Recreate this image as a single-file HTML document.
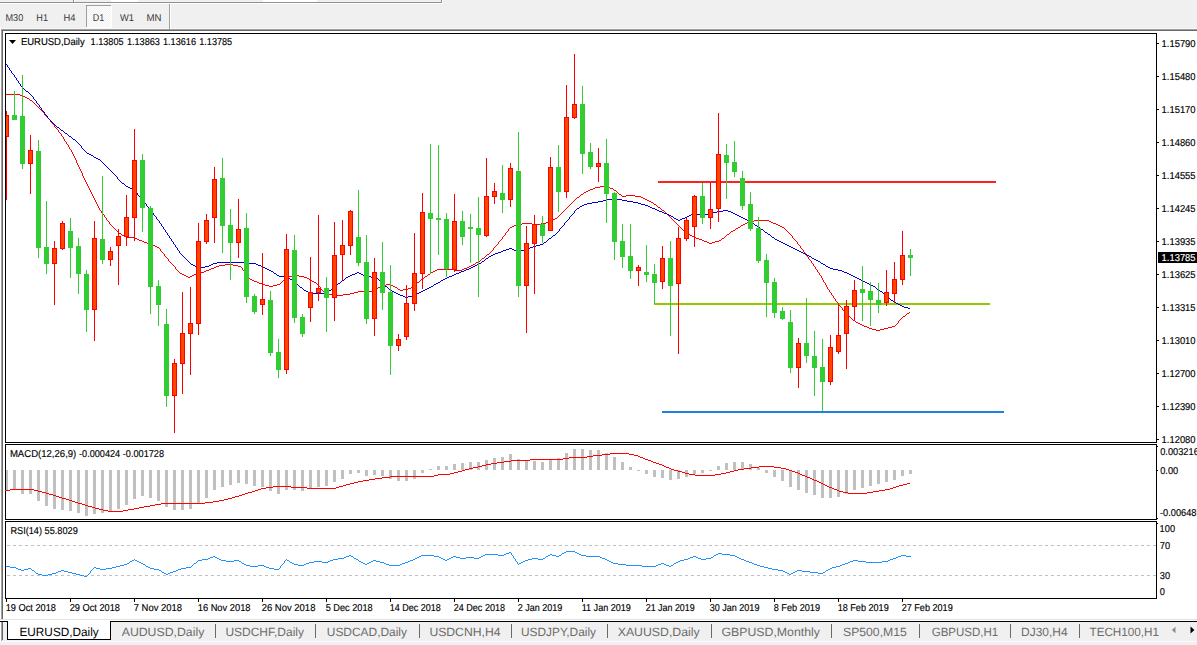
<!DOCTYPE html>
<html><head><meta charset="utf-8"><title>EURUSD,Daily</title>
<style>
html,body{margin:0;padding:0;background:#f0f0f0;overflow:hidden}
body{width:1197px;height:645px;position:relative;font-family:"Liberation Sans",sans-serif}
svg{position:absolute;left:0;top:0;display:block}
text{font-family:"Liberation Sans",sans-serif;text-rendering:geometricPrecision}
.ax{font-size:10px;fill:#000;stroke:#000;stroke-width:0.15px}
.dt{font-size:10px;fill:#000;stroke:#000;stroke-width:0.15px}
.tab{font-size:12px}
.tf{font-size:10px;fill:#383838}
.ttl{font-size:10px;fill:#000;stroke:#000;stroke-width:0.15px}
</style></head><body>
<svg width="1197" height="645" viewBox="0 0 1197 645">
<!-- window chrome -->
<rect x="0" y="0" width="1197" height="645" fill="#f0f0f0"/>
<rect x="111" y="0" width="27" height="2" fill="#fff"/>
<rect x="263" y="0" width="54" height="2" fill="#fff"/>
<rect x="0" y="2" width="442" height="1" fill="#909090"/>
<rect x="0" y="3" width="443" height="1" fill="#fff"/>
<rect x="73" y="0" width="1" height="2" fill="#909090"/>
<rect x="74" y="0" width="1" height="2" fill="#fff"/>
<rect x="441" y="0" width="1" height="3" fill="#909090"/>
<rect x="442" y="0" width="1" height="3" fill="#fff"/>
<rect x="0" y="28" width="1197" height="1" fill="#f8f8f8"/>
<rect x="0" y="29" width="1197" height="1" fill="#a0a0a0"/>
<rect x="0" y="30" width="1197" height="591" fill="#ffffff"/>
<rect x="1" y="30" width="1197" height="1" fill="#696969"/>
<rect x="1" y="29" width="1" height="591" fill="#a0a0a0"/>
<rect x="2" y="30" width="1" height="590" fill="#696969"/>
<rect x="0" y="29" width="1" height="592" fill="#fff"/>
<rect x="0" y="619" width="1197" height="1" fill="#e3e3e3"/>
<!-- timeframe toolbar -->
<rect x="86" y="5" width="26" height="23" fill="#fff"/>
<defs><pattern id="dith" x="87" y="6" width="2" height="2" patternUnits="userSpaceOnUse"><rect width="2" height="2" fill="#fff"/><rect x="0" y="0" width="1" height="1" fill="#f0f0f0"/><rect x="1" y="1" width="1" height="1" fill="#f0f0f0"/></pattern></defs>
<rect x="87" y="6" width="24" height="21" fill="url(#dith)" shape-rendering="crispEdges"/>
<rect x="86" y="5" width="25" height="1" fill="#a0a0a0"/>
<rect x="86" y="5" width="1" height="22" fill="#a0a0a0"/>
<rect x="169" y="4" width="1" height="25" fill="#a0a0a0"/>
<rect x="170" y="4" width="1" height="25" fill="#ffffff"/>
<text x="5.5" y="21" class="tf" textLength="17.8" lengthAdjust="spacingAndGlyphs">M30</text>
<text x="36.3" y="21" class="tf" textLength="11.7" lengthAdjust="spacingAndGlyphs">H1</text>
<text x="63.5" y="21" class="tf" textLength="12.0" lengthAdjust="spacingAndGlyphs">H4</text>
<text x="92.7" y="21" class="tf" textLength="11.5" lengthAdjust="spacingAndGlyphs">D1</text>
<text x="120" y="21" class="tf" textLength="14.0" lengthAdjust="spacingAndGlyphs">W1</text>
<text x="146.5" y="21" class="tf" textLength="15.0" lengthAdjust="spacingAndGlyphs">MN</text>
<!-- main chart frame -->
<g shape-rendering="crispEdges">
<rect x="5" y="33" width="1152" height="1" fill="#000"/>
<rect x="5" y="33" width="1" height="566" fill="#000"/>
<rect x="1156" y="33" width="1" height="410" fill="#000"/>
<rect x="5" y="442" width="1152" height="1" fill="#000"/>
<rect x="5" y="443" width="1152" height="1" fill="#fff"/>
<rect x="5" y="444" width="1152" height="1" fill="#000"/>
<rect x="1156" y="444" width="1" height="76" fill="#000"/>
<rect x="5" y="519" width="1152" height="1" fill="#000"/>
<rect x="5" y="520" width="1152" height="1" fill="#fff"/>
<rect x="5" y="521" width="1152" height="1" fill="#000"/>
<rect x="1156" y="521" width="1" height="78" fill="#000"/>
<rect x="5" y="598" width="1152" height="1" fill="#000"/>
<!-- RSI levels -->
<line x1="7" y1="545.5" x2="1156" y2="545.5" stroke="#c0c0c0" stroke-width="1" stroke-dasharray="3 3"/>
<line x1="7" y1="575.5" x2="1156" y2="575.5" stroke="#c0c0c0" stroke-width="1" stroke-dasharray="3 3"/>
<!-- MACD -->
<svg x="6" y="445" width="1150" height="74" viewBox="6 445 1150 74">
<rect x="5" y="470" width="3" height="20" fill="#c0c0c0"/>
<rect x="13" y="470" width="3" height="20" fill="#c0c0c0"/>
<rect x="21" y="470" width="3" height="24" fill="#c0c0c0"/>
<rect x="29" y="470" width="3" height="24" fill="#c0c0c0"/>
<rect x="37" y="470" width="3" height="31" fill="#c0c0c0"/>
<rect x="45" y="470" width="3" height="36" fill="#c0c0c0"/>
<rect x="53" y="470" width="3" height="39" fill="#c0c0c0"/>
<rect x="61" y="470" width="3" height="40" fill="#c0c0c0"/>
<rect x="69" y="470" width="3" height="41" fill="#c0c0c0"/>
<rect x="77" y="470" width="3" height="43" fill="#c0c0c0"/>
<rect x="85" y="470" width="3" height="46" fill="#c0c0c0"/>
<rect x="93" y="470" width="3" height="44" fill="#c0c0c0"/>
<rect x="101" y="470" width="3" height="43" fill="#c0c0c0"/>
<rect x="109" y="470" width="3" height="41" fill="#c0c0c0"/>
<rect x="117" y="470" width="3" height="39" fill="#c0c0c0"/>
<rect x="125" y="470" width="3" height="35" fill="#c0c0c0"/>
<rect x="133" y="470" width="3" height="29" fill="#c0c0c0"/>
<rect x="141" y="470" width="3" height="26" fill="#c0c0c0"/>
<rect x="149" y="470" width="3" height="28" fill="#c0c0c0"/>
<rect x="157" y="470" width="3" height="31" fill="#c0c0c0"/>
<rect x="165" y="470" width="3" height="37" fill="#c0c0c0"/>
<rect x="173" y="470" width="3" height="40" fill="#c0c0c0"/>
<rect x="181" y="470" width="3" height="40" fill="#c0c0c0"/>
<rect x="189" y="470" width="3" height="39" fill="#c0c0c0"/>
<rect x="197" y="470" width="3" height="33" fill="#c0c0c0"/>
<rect x="205" y="470" width="3" height="28" fill="#c0c0c0"/>
<rect x="213" y="470" width="3" height="20" fill="#c0c0c0"/>
<rect x="221" y="470" width="3" height="17" fill="#c0c0c0"/>
<rect x="229" y="470" width="3" height="15" fill="#c0c0c0"/>
<rect x="237" y="470" width="3" height="13" fill="#c0c0c0"/>
<rect x="245" y="470" width="3" height="14" fill="#c0c0c0"/>
<rect x="253" y="470" width="3" height="16" fill="#c0c0c0"/>
<rect x="261" y="470" width="3" height="17" fill="#c0c0c0"/>
<rect x="269" y="470" width="3" height="21" fill="#c0c0c0"/>
<rect x="277" y="470" width="3" height="24" fill="#c0c0c0"/>
<rect x="285" y="470" width="3" height="20" fill="#c0c0c0"/>
<rect x="293" y="470" width="3" height="20" fill="#c0c0c0"/>
<rect x="301" y="470" width="3" height="21" fill="#c0c0c0"/>
<rect x="309" y="470" width="3" height="19" fill="#c0c0c0"/>
<rect x="317" y="470" width="3" height="17" fill="#c0c0c0"/>
<rect x="325" y="470" width="3" height="16" fill="#c0c0c0"/>
<rect x="333" y="470" width="3" height="12" fill="#c0c0c0"/>
<rect x="341" y="470" width="3" height="9" fill="#c0c0c0"/>
<rect x="349" y="470" width="3" height="4" fill="#c0c0c0"/>
<rect x="357" y="470" width="3" height="3" fill="#c0c0c0"/>
<rect x="365" y="470" width="3" height="6" fill="#c0c0c0"/>
<rect x="373" y="470" width="3" height="5" fill="#c0c0c0"/>
<rect x="381" y="470" width="3" height="6" fill="#c0c0c0"/>
<rect x="389" y="470" width="3" height="9" fill="#c0c0c0"/>
<rect x="397" y="470" width="3" height="11" fill="#c0c0c0"/>
<rect x="405" y="470" width="3" height="11" fill="#c0c0c0"/>
<rect x="413" y="470" width="3" height="9" fill="#c0c0c0"/>
<rect x="421" y="470" width="3" height="3" fill="#c0c0c0"/>
<rect x="429" y="469" width="3" height="1" fill="#c0c0c0"/>
<rect x="437" y="466" width="3" height="4" fill="#c0c0c0"/>
<rect x="445" y="466" width="3" height="4" fill="#c0c0c0"/>
<rect x="453" y="464" width="3" height="6" fill="#c0c0c0"/>
<rect x="461" y="463" width="3" height="7" fill="#c0c0c0"/>
<rect x="469" y="462" width="3" height="8" fill="#c0c0c0"/>
<rect x="477" y="462" width="3" height="8" fill="#c0c0c0"/>
<rect x="485" y="460" width="3" height="10" fill="#c0c0c0"/>
<rect x="493" y="458" width="3" height="12" fill="#c0c0c0"/>
<rect x="501" y="457" width="3" height="13" fill="#c0c0c0"/>
<rect x="509" y="454" width="3" height="16" fill="#c0c0c0"/>
<rect x="517" y="459" width="3" height="11" fill="#c0c0c0"/>
<rect x="525" y="460" width="3" height="10" fill="#c0c0c0"/>
<rect x="533" y="461" width="3" height="9" fill="#c0c0c0"/>
<rect x="541" y="462" width="3" height="8" fill="#c0c0c0"/>
<rect x="549" y="460" width="3" height="10" fill="#c0c0c0"/>
<rect x="557" y="458" width="3" height="12" fill="#c0c0c0"/>
<rect x="565" y="453" width="3" height="17" fill="#c0c0c0"/>
<rect x="573" y="449" width="3" height="21" fill="#c0c0c0"/>
<rect x="581" y="449" width="3" height="21" fill="#c0c0c0"/>
<rect x="589" y="450" width="3" height="20" fill="#c0c0c0"/>
<rect x="597" y="450" width="3" height="20" fill="#c0c0c0"/>
<rect x="605" y="453" width="3" height="17" fill="#c0c0c0"/>
<rect x="613" y="457" width="3" height="13" fill="#c0c0c0"/>
<rect x="621" y="462" width="3" height="8" fill="#c0c0c0"/>
<rect x="629" y="467" width="3" height="3" fill="#c0c0c0"/>
<rect x="637" y="470" width="3" height="1" fill="#c0c0c0"/>
<rect x="645" y="470" width="3" height="4" fill="#c0c0c0"/>
<rect x="653" y="470" width="3" height="7" fill="#c0c0c0"/>
<rect x="661" y="470" width="3" height="8" fill="#c0c0c0"/>
<rect x="669" y="470" width="3" height="10" fill="#c0c0c0"/>
<rect x="677" y="470" width="3" height="9" fill="#c0c0c0"/>
<rect x="685" y="470" width="3" height="7" fill="#c0c0c0"/>
<rect x="693" y="470" width="3" height="4" fill="#c0c0c0"/>
<rect x="701" y="470" width="3" height="3" fill="#c0c0c0"/>
<rect x="709" y="470" width="3" height="1" fill="#c0c0c0"/>
<rect x="717" y="466" width="3" height="4" fill="#c0c0c0"/>
<rect x="725" y="463" width="3" height="7" fill="#c0c0c0"/>
<rect x="733" y="462" width="3" height="8" fill="#c0c0c0"/>
<rect x="741" y="462" width="3" height="8" fill="#c0c0c0"/>
<rect x="749" y="464" width="3" height="6" fill="#c0c0c0"/>
<rect x="757" y="468" width="3" height="2" fill="#c0c0c0"/>
<rect x="765" y="470" width="3" height="3" fill="#c0c0c0"/>
<rect x="773" y="470" width="3" height="7" fill="#c0c0c0"/>
<rect x="781" y="470" width="3" height="11" fill="#c0c0c0"/>
<rect x="789" y="470" width="3" height="17" fill="#c0c0c0"/>
<rect x="797" y="470" width="3" height="20" fill="#c0c0c0"/>
<rect x="805" y="470" width="3" height="23" fill="#c0c0c0"/>
<rect x="813" y="470" width="3" height="25" fill="#c0c0c0"/>
<rect x="821" y="470" width="3" height="28" fill="#c0c0c0"/>
<rect x="829" y="470" width="3" height="28" fill="#c0c0c0"/>
<rect x="837" y="470" width="3" height="27" fill="#c0c0c0"/>
<rect x="845" y="470" width="3" height="24" fill="#c0c0c0"/>
<rect x="853" y="470" width="3" height="20" fill="#c0c0c0"/>
<rect x="861" y="470" width="3" height="18" fill="#c0c0c0"/>
<rect x="869" y="470" width="3" height="16" fill="#c0c0c0"/>
<rect x="877" y="470" width="3" height="14" fill="#c0c0c0"/>
<rect x="885" y="470" width="3" height="12" fill="#c0c0c0"/>
<rect x="893" y="470" width="3" height="10" fill="#c0c0c0"/>
<rect x="901" y="470" width="3" height="6" fill="#c0c0c0"/>
<rect x="909" y="470" width="3" height="4" fill="#c0c0c0"/>
</svg>
<!-- horizontal lines -->
<rect x="658" y="181" width="338" height="2" fill="#ff2020"/>
<rect x="654" y="303" width="336" height="2" fill="#96c800"/>
<rect x="662" y="411" width="342" height="2" fill="#2080e0"/>
<path d="M373 290h2v1h-2zM400 290h3v1h-3zM872 329h4v1h-4zM880 329h4v1h-4zM685 232h2v1h-2zM595 187h5v1h-5zM606 187h4v1h-4zM214 267h2v1h-2zM467 267h2v1h-2zM257 282h2v1h-2zM314 282h2v1h-2zM417 282h2v1h-2zM206 270h3v1h-3zM435 270h2v1h-2zM455 270h7v1h-7zM622 196h4v1h-4zM635 196h6v1h-6zM329 294h5v1h-5zM343 294h7v1h-7zM860 324h2v1h-2zM137 239h2v1h-2zM699 239h3v1h-3zM6 94h14v1h-14zM853 320h2v1h-2zM135 238h2v1h-2zM696 238h3v1h-3zM722 238h2v1h-2zM482 258h2v1h-2zM334 295h9v1h-9zM157 247h2v1h-2zM600 186h6v1h-6zM590 189h3v1h-3zM259 283h3v1h-3zM731 231h2v1h-2zM219 265h6v1h-6zM233 265h5v1h-5zM471 265h2v1h-2zM20 95h2v1h-2zM869 328h3v1h-3zM884 328h4v1h-4zM551 220h2v1h-2zM754 220h15v1h-15zM265 285h4v1h-4zM273 285h4v1h-4zM382 285h4v1h-4zM390 285h3v1h-3zM517 224h5v1h-5zM532 224h9v1h-9zM743 224h2v1h-2zM776 224h2v1h-2zM126 237h9v1h-9zM694 237h2v1h-2zM209 269h2v1h-2zM437 269h18v1h-18zM462 269h2v1h-2zM326 293h3v1h-3zM350 293h4v1h-4zM555 218h2v1h-2zM269 286h4v1h-4zM380 286h2v1h-2zM393 286h2v1h-2zM412 286h2v1h-2zM903 316h2v1h-2zM184 275h2v1h-2zM192 275h2v1h-2zM292 275h7v1h-7zM124 236h2v1h-2zM692 236h2v1h-2zM378 287h2v1h-2zM395 287h2v1h-2zM252 280h2v1h-2zM283 280h2v1h-2zM204 271h2v1h-2zM433 271h2v1h-2zM626 195h9v1h-9zM150 244h2v1h-2zM225 264h8v1h-8zM473 264h2v1h-2zM867 327h2v1h-2zM888 327h4v1h-4zM201 272h3v1h-3zM431 272h2v1h-2zM522 223h10v1h-10zM541 223h5v1h-5zM745 223h2v1h-2zM773 223h3v1h-3zM645 199h2v1h-2zM188 277h2v1h-2zM304 277h3v1h-3zM152 245h3v1h-3zM22 96h3v1h-3zM216 266h3v1h-3zM238 266h3v1h-3zM469 266h2v1h-2zM688 234h2v1h-2zM727 234h2v1h-2zM586 191h2v1h-2zM584 192h2v1h-2zM658 207h2v1h-2zM182 274h2v1h-2zM194 274h3v1h-3zM428 274h2v1h-2zM144 242h3v1h-3zM707 242h2v1h-2zM712 242h3v1h-3zM514 225h3v1h-3zM741 225h2v1h-2zM778 225h2v1h-2zM546 222h3v1h-3zM747 222h2v1h-2zM771 222h2v1h-2zM376 288h2v1h-2zM408 288h3v1h-3zM139 240h3v1h-3zM702 240h2v1h-2zM719 240h2v1h-2zM358 291h15v1h-15zM593 188h2v1h-2zM610 188h3v1h-3zM476 262h2v1h-2zM876 330h4v1h-4zM654 204h2v1h-2zM147 243h3v1h-3zM709 243h3v1h-3zM549 221h2v1h-2zM749 221h5v1h-5zM769 221h2v1h-2zM478 261h2v1h-2zM122 235h2v1h-2zM690 235h2v1h-2zM856 322h2v1h-2zM581 194h2v1h-2zM619 194h2v1h-2zM211 268h3v1h-3zM464 268h3v1h-3zM398 289h2v1h-2zM403 289h5v1h-5zM155 246h2v1h-2zM324 292h2v1h-2zM354 292h4v1h-4zM119 233h2v1h-2zM142 241h2v1h-2zM704 241h3v1h-3zM715 241h4v1h-4zM736 228h2v1h-2zM647 200h2v1h-2zM553 219h2v1h-2zM186 276h2v1h-2zM190 276h2v1h-2zM288 276h4v1h-4zM299 276h5v1h-5zM425 276h2v1h-2zM649 201h2v1h-2zM577 197h2v1h-2zM641 197h2v1h-2zM643 198h2v1h-2zM262 284h3v1h-3zM277 284h3v1h-3zM386 284h4v1h-4zM307 278h2v1h-2zM180 273h2v1h-2zM197 273h4v1h-4zM588 190h2v1h-2zM614 190h2v1h-2zM512 226h2v1h-2zM780 226h2v1h-2zM733 230h2v1h-2zM254 281h3v1h-3zM312 281h2v1h-2zM862 325h2v1h-2zM858 323h2v1h-2zM864 326h3v1h-3zM892 326h3v1h-3zM250 279h2v1h-2zM309 279h2v1h-2zM421 279h2v1h-2zM510 227h2v1h-2zM738 227h2v1h-2zM782 227h2v1h-2zM25 97h2v1h-2zM487 254h2v1h-2zM27 98h2v1h-2zM907 313h2v1h-2zM651 202h2v1h-2zM30 100h2v1h-2zM662 210h2v1h-2zM32 101h1v1h-1zM730 232h1v1h-1zM104 215h1v2h-1zM805 253h1v2h-1zM93 196h1v2h-1zM670 217h1v1h-1zM568 206h1v1h-1zM167 258h1v1h-1zM491 251h1v1h-1zM835 299h1v2h-1zM494 247h1v1h-1zM809 259h1v1h-1zM89 188h1v2h-1zM838 303h1v2h-1zM71 150h1v2h-1zM787 231h1v1h-1zM160 249h1v2h-1zM39 108h1v1h-1zM839 305h1v1h-1zM280 283h1v1h-1zM46 116h1v1h-1zM502 237h1v2h-1zM78 165h1v2h-1zM107 220h1v1h-1zM178 271h1v1h-1zM79 167h1v2h-1zM92 194h1v2h-1zM852 319h1v1h-1zM575 199h1v1h-1zM424 277h1v1h-1zM56 128h1v1h-1zM617 192h1v1h-1zM813 264h1v2h-1zM38 107h1v1h-1zM57 129h1v1h-1zM86 182h1v2h-1zM485 256h1v1h-1zM505 233h1v2h-1zM242 268h1v2h-1zM170 262h1v1h-1zM677 224h1v1h-1zM563 211h1v1h-1zM81 171h1v2h-1zM106 218h1v2h-1zM898 321h1v2h-1zM798 244h1v1h-1zM159 248h1v1h-1zM684 231h1v1h-1zM613 189h1v1h-1zM579 196h1v1h-1zM808 257h1v2h-1zM837 302h1v1h-1zM676 223h1v1h-1zM812 263h1v1h-1zM489 253h1v1h-1zM85 180h1v2h-1zM721 239h1v1h-1zM241 267h1v1h-1zM570 204h1v1h-1zM797 242h1v2h-1zM725 236h1v1h-1zM665 212h1v1h-1zM121 234h1v1h-1zM901 318h1v1h-1zM729 233h1v1h-1zM110 224h1v1h-1zM905 315h1v1h-1zM558 216h1v1h-1zM909 312h1v1h-1zM88 186h1v2h-1zM815 267h1v2h-1zM816 269h1v1h-1zM317 284h1v1h-1zM286 278h1v1h-1zM508 229h1v2h-1zM245 272h1v2h-1zM841 307h1v1h-1zM790 234h1v1h-1zM430 273h1v1h-1zM415 284h1v1h-1zM847 314h1v1h-1zM796 241h1v1h-1zM493 248h1v2h-1zM48 118h1v1h-1zM109 222h1v2h-1zM77 163h1v2h-1zM419 281h1v1h-1zM848 315h1v1h-1zM800 246h1v2h-1zM161 251h1v1h-1zM33 102h1v1h-1zM423 278h1v1h-1zM91 192h1v2h-1zM162 252h1v1h-1zM480 260h1v1h-1zM565 209h1v1h-1zM811 261h1v2h-1zM87 184h1v2h-1zM672 219h1v1h-1zM116 230h1v1h-1zM501 239h1v1h-1zM59 132h1v1h-1zM504 235h1v1h-1zM661 209h1v1h-1zM40 109h1v1h-1zM117 231h1v1h-1zM840 306h1v1h-1zM664 211h1v1h-1zM789 233h1v1h-1zM41 110h1v1h-1zM244 271h1v1h-1zM172 264h1v1h-1zM496 245h1v1h-1zM499 241h1v1h-1zM679 226h1v1h-1zM248 276h1v2h-1zM108 221h1v1h-1zM179 272h1v1h-1zM76 160h1v3h-1zM671 218h1v1h-1zM58 130h1v2h-1zM427 275h1v1h-1zM810 260h1v1h-1zM90 190h1v2h-1zM484 257h1v1h-1zM507 231h1v1h-1zM829 290h1v2h-1zM73 154h1v2h-1zM618 193h1v1h-1zM814 266h1v1h-1zM660 208h1v1h-1zM822 278h1v2h-1zM165 256h1v1h-1zM678 225h1v1h-1zM84 178h1v2h-1zM320 287h1v2h-1zM29 99h1v1h-1zM900 319h1v1h-1zM98 206h1v2h-1zM799 245h1v1h-1zM101 211h1v2h-1zM51 122h1v1h-1zM803 250h1v2h-1zM895 325h1v1h-1zM164 254h1v2h-1zM281 282h1v1h-1zM817 270h1v2h-1zM825 283h1v2h-1zM735 229h1v1h-1zM828 289h1v1h-1zM61 134h1v2h-1zM69 147h1v2h-1zM818 272h1v1h-1zM171 263h1v1h-1zM569 205h1v1h-1zM821 276h1v2h-1zM62 136h1v1h-1zM83 176h1v2h-1zM319 286h1v1h-1zM843 310h1v1h-1zM792 236h1v2h-1zM50 120h1v2h-1zM97 204h1v2h-1zM557 217h1v1h-1zM656 205h1v1h-1zM111 225h1v1h-1zM583 193h1v1h-1zM850 317h1v1h-1zM572 202h1v1h-1zM75 158h1v2h-1zM285 279h1v1h-1zM35 104h1v1h-1zM498 242h1v2h-1zM112 226h1v1h-1zM64 139h1v2h-1zM72 152h1v2h-1zM784 228h1v1h-1zM842 308h1v2h-1zM824 282h1v1h-1zM832 295h1v1h-1zM65 141h1v1h-1zM68 145h1v2h-1zM118 232h1v1h-1zM674 221h1v1h-1zM495 246h1v1h-1zM82 173h1v3h-1zM560 214h1v1h-1zM246 274h1v1h-1zM791 235h1v1h-1zM486 255h1v1h-1zM666 213h1v1h-1zM849 316h1v1h-1zM247 275h1v1h-1zM175 267h1v2h-1zM490 252h1v1h-1zM49 119h1v1h-1zM375 289h1v1h-1zM827 287h1v2h-1zM506 232h1v1h-1zM673 220h1v1h-1zM60 133h1v1h-1zM802 249h1v1h-1zM163 253h1v1h-1zM831 293h1v2h-1zM318 285h1v1h-1zM820 275h1v1h-1zM567 207h1v1h-1zM99 208h1v2h-1zM42 111h1v1h-1zM100 210h1v1h-1zM801 248h1v1h-1zM34 103h1v1h-1zM74 156h1v2h-1zM823 280h1v2h-1zM826 285h1v2h-1zM819 273h1v2h-1zM63 137h1v2h-1zM902 317h1v1h-1zM173 265h1v1h-1zM574 200h1v1h-1zM897 323h1v1h-1zM680 227h1v1h-1zM174 266h1v1h-1zM249 278h1v1h-1zM845 312h1v1h-1zM681 228h1v1h-1zM96 202h1v2h-1zM571 203h1v1h-1zM52 123h1v1h-1zM509 228h1v1h-1zM726 235h1v1h-1zM830 292h1v1h-1zM562 212h1v1h-1zM53 124h1v1h-1zM66 142h1v2h-1zM833 296h1v2h-1zM416 283h1v1h-1zM397 288h1v1h-1zM166 257h1v1h-1zM855 321h1v1h-1zM834 298h1v1h-1zM67 144h1v1h-1zM114 228h1v1h-1zM321 289h1v1h-1zM724 237h1v1h-1zM906 314h1v1h-1zM786 230h1v1h-1zM70 149h1v1h-1zM481 259h1v1h-1zM559 215h1v1h-1zM44 113h1v2h-1zM793 238h1v1h-1zM287 277h1v1h-1zM102 213h1v1h-1zM45 115h1v1h-1zM657 206h1v1h-1zM794 239h1v1h-1zM95 200h1v2h-1zM103 214h1v1h-1zM804 252h1v1h-1zM177 270h1v1h-1zM669 216h1v1h-1zM497 244h1v1h-1zM420 280h1v1h-1zM113 227h1v1h-1zM687 233h1v1h-1zM616 191h1v1h-1zM37 106h1v1h-1zM740 226h1v1h-1zM492 250h1v1h-1zM844 311h1v1h-1zM566 208h1v1h-1zM653 203h1v1h-1zM667 214h1v1h-1zM80 169h1v2h-1zM668 215h1v1h-1zM94 198h1v2h-1zM851 318h1v1h-1zM500 240h1v1h-1zM36 105h1v1h-1zM55 127h1v1h-1zM785 229h1v1h-1zM807 256h1v1h-1zM168 259h1v2h-1zM836 301h1v1h-1zM675 222h1v1h-1zM169 261h1v1h-1zM414 285h1v1h-1zM43 112h1v1h-1zM573 201h1v1h-1zM176 269h1v1h-1zM682 229h1v1h-1zM503 236h1v1h-1zM475 263h1v1h-1zM683 230h1v1h-1zM54 125h1v2h-1zM561 213h1v1h-1zM576 198h1v1h-1zM580 195h1v1h-1zM896 324h1v1h-1zM899 320h1v1h-1zM282 281h1v1h-1zM323 291h1v1h-1zM564 210h1v1h-1zM411 287h1v1h-1zM795 240h1v1h-1zM105 217h1v1h-1zM47 117h1v1h-1zM806 255h1v1h-1zM316 283h1v1h-1zM115 229h1v1h-1zM322 290h1v1h-1zM311 280h1v1h-1zM621 195h1v1h-1zM788 232h1v1h-1zM846 313h1v1h-1zM243 270h1v1h-1z" fill="#ff0000" shape-rendering="crispEdges"/>
<path d="M398 294h2v1h-2zM415 294h2v1h-2zM284 277h5v1h-5zM346 277h2v1h-2zM371 277h6v1h-6zM447 277h2v1h-2zM855 277h2v1h-2zM265 268h2v1h-2zM469 268h2v1h-2zM830 268h3v1h-3zM304 290h2v1h-2zM329 290h2v1h-2zM423 290h2v1h-2zM217 262h30v1h-30zM530 247h3v1h-3zM791 247h2v1h-2zM94 157h2v1h-2zM761 229h2v1h-2zM87 153h2v1h-2zM357 272h2v1h-2zM459 272h2v1h-2zM844 272h3v1h-3zM667 214h2v1h-2zM691 214h17v1h-17zM735 214h2v1h-2zM308 292h3v1h-3zM394 292h2v1h-2zM419 292h2v1h-2zM193 265h2v1h-2zM209 265h2v1h-2zM258 265h3v1h-3zM475 265h2v1h-2zM311 293h16v1h-16zM396 293h2v1h-2zM417 293h2v1h-2zM334 286h2v1h-2zM385 286h2v1h-2zM431 286h2v1h-2zM873 286h2v1h-2zM493 254h2v1h-2zM805 254h2v1h-2zM342 280h2v1h-2zM441 280h2v1h-2zM861 280h2v1h-2zM501 251h2v1h-2zM516 251h4v1h-4zM799 251h2v1h-2zM553 235h2v1h-2zM587 203h5v1h-5zM638 203h3v1h-3zM389 289h2v1h-2zM425 289h2v1h-2zM877 289h2v1h-2zM607 199h5v1h-5zM617 199h5v1h-5zM503 250h3v1h-3zM514 250h2v1h-2zM520 250h4v1h-4zM797 250h2v1h-2zM89 154h2v1h-2zM491 255h2v1h-2zM807 255h2v1h-2zM195 266h4v1h-4zM205 266h4v1h-4zM261 266h2v1h-2zM473 266h2v1h-2zM826 266h2v1h-2zM91 155h2v1h-2zM489 256h2v1h-2zM809 256h2v1h-2zM509 248h3v1h-3zM528 248h2v1h-2zM793 248h2v1h-2zM338 283h2v1h-2zM436 283h2v1h-2zM867 283h2v1h-2zM664 213h3v1h-3zM708 213h4v1h-4zM733 213h2v1h-2zM213 263h4v1h-4zM247 263h9v1h-9zM479 263h2v1h-2zM821 263h2v1h-2zM577 208h2v1h-2zM652 208h3v1h-3zM427 288h2v1h-2zM199 267h6v1h-6zM263 267h2v1h-2zM471 267h2v1h-2zM828 267h2v1h-2zM598 201h5v1h-5zM627 201h6v1h-6zM655 209h2v1h-2zM495 253h3v1h-3zM803 253h2v1h-2zM352 274h3v1h-3zM361 274h2v1h-2zM454 274h2v1h-2zM849 274h2v1h-2zM755 225h2v1h-2zM603 200h4v1h-4zM622 200h5v1h-5zM772 237h2v1h-2zM400 295h3v1h-3zM412 295h3v1h-3zM783 243h2v1h-2zM676 219h2v1h-2zM680 219h2v1h-2zM745 219h2v1h-2zM657 210h2v1h-2zM723 210h5v1h-5zM584 204h3v1h-3zM641 204h4v1h-4zM674 218h2v1h-2zM682 218h3v1h-3zM743 218h2v1h-2zM777 240h2v1h-2zM536 245h4v1h-4zM787 245h2v1h-2zM871 285h2v1h-2zM902 306h2v1h-2zM685 217h2v1h-2zM741 217h2v1h-2zM300 287h2v1h-2zM429 287h2v1h-2zM669 215h2v1h-2zM689 215h2v1h-2zM737 215h2v1h-2zM191 264h2v1h-2zM211 264h2v1h-2zM256 264h2v1h-2zM477 264h2v1h-2zM823 264h2v1h-2zM294 282h2v1h-2zM438 282h2v1h-2zM865 282h2v1h-2zM267 269h2v1h-2zM466 269h3v1h-3zM833 269h5v1h-5zM659 211h3v1h-3zM717 211h6v1h-6zM728 211h3v1h-3zM749 221h2v1h-2zM898 304h2v1h-2zM768 234h2v1h-2zM274 273h2v1h-2zM355 273h2v1h-2zM359 273h2v1h-2zM456 273h3v1h-3zM847 273h2v1h-2zM403 296h2v1h-2zM408 296h4v1h-4zM886 296h2v1h-2zM279 276h5v1h-5zM348 276h2v1h-2zM365 276h6v1h-6zM449 276h3v1h-3zM853 276h2v1h-2zM612 198h5v1h-5zM758 227h2v1h-2zM662 212h2v1h-2zM712 212h5v1h-5zM731 212h2v1h-2zM306 291h2v1h-2zM392 291h2v1h-2zM421 291h2v1h-2zM880 291h2v1h-2zM891 300h2v1h-2zM582 205h2v1h-2zM645 205h3v1h-3zM277 275h2v1h-2zM350 275h2v1h-2zM363 275h2v1h-2zM452 275h2v1h-2zM851 275h2v1h-2zM671 216h2v1h-2zM687 216h2v1h-2zM739 216h2v1h-2zM908 308h2v1h-2zM678 220h2v1h-2zM747 220h2v1h-2zM290 279h2v1h-2zM443 279h2v1h-2zM859 279h2v1h-2zM271 271h2v1h-2zM461 271h3v1h-3zM842 271h2v1h-2zM592 202h6v1h-6zM633 202h5v1h-5zM486 258h2v1h-2zM812 258h2v1h-2zM765 232h2v1h-2zM751 222h2v1h-2zM126 186h2v1h-2zM506 249h3v1h-3zM512 249h2v1h-2zM524 249h4v1h-4zM795 249h2v1h-2zM814 259h2v1h-2zM904 307h4v1h-4zM269 270h2v1h-2zM464 270h2v1h-2zM838 270h4v1h-4zM549 238h2v1h-2zM26 91h2v1h-2zM816 260h2v1h-2zM893 301h2v1h-2zM498 252h3v1h-3zM801 252h2v1h-2zM130 188h2v1h-2zM482 261h2v1h-2zM818 261h2v1h-2zM132 189h2v1h-2zM434 284h2v1h-2zM869 284h2v1h-2zM73 139h2v1h-2zM540 244h3v1h-3zM785 244h2v1h-2zM98 159h2v1h-2zM128 187h2v1h-2zM122 183h2v1h-2zM445 278h2v1h-2zM857 278h2v1h-2zM96 158h2v1h-2zM405 297h3v1h-3zM779 241h2v1h-2zM544 242h2v1h-2zM781 242h2v1h-2zM580 206h2v1h-2zM648 206h2v1h-2zM775 239h2v1h-2zM65 133h2v1h-2zM900 305h2v1h-2zM650 207h2v1h-2zM896 303h2v1h-2zM61 130h2v1h-2zM533 246h3v1h-3zM789 246h2v1h-2zM57 127h2v1h-2zM863 281h2v1h-2zM69 136h2v1h-2zM302 288h1v1h-1zM391 290h1v1h-1zM163 227h1v2h-1zM185 258h1v1h-1zM18 81h1v2h-1zM875 287h1v1h-1zM124 184h1v1h-1zM59 128h1v1h-1zM142 199h1v2h-1zM101 161h1v1h-1zM164 229h1v1h-1zM52 122h1v1h-1zM20 84h1v2h-1zM181 254h1v1h-1zM10 70h1v1h-1zM39 105h1v2h-1zM882 292h1v1h-1zM48 118h1v1h-1zM83 149h1v1h-1zM102 162h1v1h-1zM328 291h1v1h-1zM137 193h1v2h-1zM7 65h1v2h-1zM548 239h1v1h-1zM292 280h1v1h-1zM146 204h1v2h-1zM168 235h1v1h-1zM303 289h1v1h-1zM574 211h1v2h-1zM67 134h1v1h-1zM84 150h1v1h-1zM876 288h1v1h-1zM125 185h1v1h-1zM327 292h1v1h-1zM78 143h1v1h-1zM332 288h1v1h-1zM118 179h1v1h-1zM333 287h1v1h-1zM173 242h1v2h-1zM31 95h1v1h-1zM182 255h1v1h-1zM276 274h1v1h-1zM552 236h1v1h-1zM11 71h1v2h-1zM573 213h1v1h-1zM40 107h1v1h-1zM148 207h1v1h-1zM49 119h1v1h-1zM157 219h1v1h-1zM13 74h1v1h-1zM331 289h1v1h-1zM484 260h1v1h-1zM174 244h1v1h-1zM32 96h1v1h-1zM16 78h1v2h-1zM183 256h1v1h-1zM569 217h1v2h-1zM763 230h1v1h-1zM177 248h1v2h-1zM55 125h1v1h-1zM41 108h1v2h-1zM884 294h1v1h-1zM50 120h1v1h-1zM134 190h1v1h-1zM44 112h1v2h-1zM171 239h1v2h-1zM51 121h1v1h-1zM770 235h1v1h-1zM488 257h1v1h-1zM17 80h1v1h-1zM86 152h1v1h-1zM80 145h1v1h-1zM100 160h1v1h-1zM75 140h1v1h-1zM149 208h1v1h-1zM158 220h1v1h-1zM120 181h1v1h-1zM189 262h1v1h-1zM175 245h1v2h-1zM33 97h1v2h-1zM764 231h1v1h-1zM184 257h1v1h-1zM81 146h1v2h-1zM56 126h1v1h-1zM150 209h1v2h-1zM885 295h1v1h-1zM159 221h1v2h-1zM144 202h1v1h-1zM29 93h1v1h-1zM180 253h1v1h-1zM153 213h1v2h-1zM22 87h1v1h-1zM190 263h1v1h-1zM9 68h1v2h-1zM77 142h1v1h-1zM106 166h1v1h-1zM563 225h1v1h-1zM565 222h1v1h-1zM186 259h1v1h-1zM289 278h1v1h-1zM53 123h1v1h-1zM47 116h1v2h-1zM64 132h1v1h-1zM107 167h1v1h-1zM559 229h1v2h-1zM561 227h1v1h-1zM543 243h1v1h-1zM136 192h1v1h-1zM14 75h1v2h-1zM273 272h1v1h-1zM753 223h1v1h-1zM23 88h1v1h-1zM103 163h1v1h-1zM337 284h1v1h-1zM169 236h1v2h-1zM557 232h1v1h-1zM558 231h1v1h-1zM546 241h1v1h-1zM187 260h1v1h-1zM547 240h1v1h-1zM172 241h1v1h-1zM15 77h1v1h-1zM79 144h1v1h-1zM119 180h1v1h-1zM54 124h1v1h-1zM24 89h1v1h-1zM575 210h1v1h-1zM336 285h1v1h-1zM72 138h1v1h-1zM341 281h1v1h-1zM108 168h1v1h-1zM156 217h1v2h-1zM673 217h1v1h-1zM387 287h1v1h-1zM188 261h1v1h-1zM143 201h1v1h-1zM551 237h1v1h-1zM104 164h1v1h-1zM571 215h1v1h-1zM114 174h1v1h-1zM161 224h1v2h-1zM340 282h1v1h-1zM109 169h1v1h-1zM178 250h1v1h-1zM151 211h1v1h-1zM298 285h1v1h-1zM36 101h1v2h-1zM160 223h1v1h-1zM45 114h1v1h-1zM568 219h1v1h-1zM105 165h1v1h-1zM570 216h1v1h-1zM567 220h1v1h-1zM110 170h1v1h-1zM771 236h1v1h-1zM162 226h1v1h-1zM25 90h1v1h-1zM895 302h1v1h-1zM165 230h1v2h-1zM299 286h1v1h-1zM21 86h1v1h-1zM388 288h1v1h-1zM46 115h1v1h-1zM564 223h1v2h-1zM566 221h1v1h-1zM121 182h1v1h-1zM167 233h1v2h-1zM115 175h1v1h-1zM377 278h1v1h-1zM481 262h1v1h-1zM179 251h1v2h-1zM93 156h1v1h-1zM37 103h1v1h-1zM562 226h1v1h-1zM879 290h1v1h-1zM111 171h1v1h-1zM145 203h1v1h-1zM63 131h1v1h-1zM117 177h1v2h-1zM154 215h1v1h-1zM116 176h1v1h-1zM139 196h1v1h-1zM380 281h1v1h-1zM38 104h1v1h-1zM112 172h1v1h-1zM293 281h1v1h-1zM155 216h1v1h-1zM140 197h1v1h-1zM296 283h1v1h-1zM576 209h1v1h-1zM378 279h1v1h-1zM71 137h1v1h-1zM754 224h1v1h-1zM572 214h1v1h-1zM297 284h1v1h-1zM760 228h1v1h-1zM43 111h1v1h-1zM113 173h1v1h-1zM555 234h1v1h-1zM556 233h1v1h-1zM19 83h1v1h-1zM767 233h1v1h-1zM344 279h1v1h-1zM345 278h1v1h-1zM888 297h1v1h-1zM82 148h1v1h-1zM774 238h1v1h-1zM35 100h1v1h-1zM60 129h1v1h-1zM889 298h1v1h-1zM152 212h1v1h-1zM138 195h1v1h-1zM8 67h1v1h-1zM381 282h1v1h-1zM820 262h1v1h-1zM30 94h1v1h-1zM166 232h1v1h-1zM147 206h1v1h-1zM382 283h1v1h-1zM12 73h1v1h-1zM890 299h1v1h-1zM883 293h1v1h-1zM170 238h1v1h-1zM485 259h1v1h-1zM560 228h1v1h-1zM85 151h1v1h-1zM433 285h1v1h-1zM68 135h1v1h-1zM383 284h1v1h-1zM440 281h1v1h-1zM141 198h1v1h-1zM757 226h1v1h-1zM42 110h1v1h-1zM135 191h1v1h-1zM579 207h1v1h-1zM379 280h1v1h-1zM176 247h1v1h-1zM384 285h1v1h-1zM34 99h1v1h-1zM28 92h1v1h-1zM76 141h1v1h-1zM811 257h1v1h-1zM6 64h1v1h-1zM825 265h1v1h-1z" fill="#0000cd" shape-rendering="crispEdges"/>
<!-- candles -->
<svg x="6" y="34" width="1150" height="408" viewBox="6 34 1150 408">
<rect x="6" y="111" width="1" height="89" fill="#ff0000"/>
<rect x="4" y="115" width="5" height="22" fill="#ff0000"/>
<rect x="5" y="116" width="3" height="20" fill="#ff4500"/>
<rect x="14" y="91" width="1" height="29" fill="#32cd32"/>
<rect x="12" y="115" width="5" height="5" fill="#32cd32"/>
<rect x="22" y="75" width="1" height="94" fill="#32cd32"/>
<rect x="20" y="116" width="5" height="48" fill="#32cd32"/>
<rect x="30" y="135" width="1" height="59" fill="#ff0000"/>
<rect x="28" y="150" width="5" height="14" fill="#ff0000"/>
<rect x="29" y="151" width="3" height="12" fill="#ff4500"/>
<rect x="38" y="140" width="1" height="118" fill="#32cd32"/>
<rect x="36" y="151" width="5" height="97" fill="#32cd32"/>
<rect x="46" y="201" width="1" height="73" fill="#32cd32"/>
<rect x="44" y="247" width="5" height="17" fill="#32cd32"/>
<rect x="54" y="241" width="1" height="64" fill="#ff0000"/>
<rect x="52" y="248" width="5" height="16" fill="#ff0000"/>
<rect x="53" y="249" width="3" height="14" fill="#ff4500"/>
<rect x="62" y="221" width="1" height="29" fill="#ff0000"/>
<rect x="60" y="223" width="5" height="26" fill="#ff0000"/>
<rect x="61" y="224" width="3" height="24" fill="#ff4500"/>
<rect x="70" y="218" width="1" height="60" fill="#32cd32"/>
<rect x="68" y="231" width="5" height="17" fill="#32cd32"/>
<rect x="78" y="238" width="1" height="56" fill="#32cd32"/>
<rect x="76" y="246" width="5" height="28" fill="#32cd32"/>
<rect x="86" y="270" width="1" height="62" fill="#32cd32"/>
<rect x="84" y="274" width="5" height="36" fill="#32cd32"/>
<rect x="94" y="221" width="1" height="120" fill="#ff0000"/>
<rect x="92" y="238" width="5" height="72" fill="#ff0000"/>
<rect x="93" y="239" width="3" height="70" fill="#ff4500"/>
<rect x="102" y="176" width="1" height="88" fill="#32cd32"/>
<rect x="100" y="239" width="5" height="21" fill="#32cd32"/>
<rect x="110" y="247" width="1" height="19" fill="#ff0000"/>
<rect x="108" y="251" width="5" height="9" fill="#ff0000"/>
<rect x="109" y="252" width="3" height="7" fill="#ff4500"/>
<rect x="118" y="229" width="1" height="56" fill="#ff0000"/>
<rect x="116" y="236" width="5" height="10" fill="#ff0000"/>
<rect x="117" y="237" width="3" height="8" fill="#ff4500"/>
<rect x="126" y="195" width="1" height="51" fill="#ff0000"/>
<rect x="124" y="217" width="5" height="20" fill="#ff0000"/>
<rect x="125" y="218" width="3" height="18" fill="#ff4500"/>
<rect x="134" y="129" width="1" height="112" fill="#ff0000"/>
<rect x="132" y="160" width="5" height="58" fill="#ff0000"/>
<rect x="133" y="161" width="3" height="56" fill="#ff4500"/>
<rect x="142" y="154" width="1" height="78" fill="#32cd32"/>
<rect x="140" y="160" width="5" height="48" fill="#32cd32"/>
<rect x="150" y="206" width="1" height="108" fill="#32cd32"/>
<rect x="148" y="208" width="5" height="79" fill="#32cd32"/>
<rect x="158" y="280" width="1" height="46" fill="#32cd32"/>
<rect x="156" y="286" width="5" height="19" fill="#32cd32"/>
<rect x="166" y="309" width="1" height="98" fill="#32cd32"/>
<rect x="164" y="324" width="5" height="72" fill="#32cd32"/>
<rect x="174" y="359" width="1" height="74" fill="#ff0000"/>
<rect x="172" y="363" width="5" height="33" fill="#ff0000"/>
<rect x="173" y="364" width="3" height="31" fill="#ff4500"/>
<rect x="182" y="292" width="1" height="102" fill="#ff0000"/>
<rect x="180" y="333" width="5" height="31" fill="#ff0000"/>
<rect x="181" y="334" width="3" height="29" fill="#ff4500"/>
<rect x="190" y="287" width="1" height="88" fill="#ff0000"/>
<rect x="188" y="323" width="5" height="11" fill="#ff0000"/>
<rect x="189" y="324" width="3" height="9" fill="#ff4500"/>
<rect x="198" y="223" width="1" height="112" fill="#ff0000"/>
<rect x="196" y="241" width="5" height="83" fill="#ff0000"/>
<rect x="197" y="242" width="3" height="81" fill="#ff4500"/>
<rect x="206" y="214" width="1" height="30" fill="#ff0000"/>
<rect x="204" y="220" width="5" height="22" fill="#ff0000"/>
<rect x="205" y="221" width="3" height="20" fill="#ff4500"/>
<rect x="214" y="167" width="1" height="76" fill="#ff0000"/>
<rect x="212" y="179" width="5" height="39" fill="#ff0000"/>
<rect x="213" y="180" width="3" height="37" fill="#ff4500"/>
<rect x="222" y="158" width="1" height="95" fill="#32cd32"/>
<rect x="220" y="178" width="5" height="48" fill="#32cd32"/>
<rect x="230" y="209" width="1" height="71" fill="#32cd32"/>
<rect x="228" y="225" width="5" height="18" fill="#32cd32"/>
<rect x="238" y="199" width="1" height="59" fill="#ff0000"/>
<rect x="236" y="229" width="5" height="14" fill="#ff0000"/>
<rect x="237" y="230" width="3" height="12" fill="#ff4500"/>
<rect x="246" y="213" width="1" height="90" fill="#32cd32"/>
<rect x="244" y="228" width="5" height="69" fill="#32cd32"/>
<rect x="254" y="294" width="1" height="20" fill="#32cd32"/>
<rect x="252" y="296" width="5" height="16" fill="#32cd32"/>
<rect x="262" y="253" width="1" height="62" fill="#ff0000"/>
<rect x="260" y="299" width="5" height="6" fill="#ff0000"/>
<rect x="261" y="300" width="3" height="4" fill="#ff4500"/>
<rect x="270" y="291" width="1" height="65" fill="#32cd32"/>
<rect x="268" y="300" width="5" height="53" fill="#32cd32"/>
<rect x="278" y="339" width="1" height="39" fill="#32cd32"/>
<rect x="276" y="352" width="5" height="18" fill="#32cd32"/>
<rect x="286" y="234" width="1" height="140" fill="#ff0000"/>
<rect x="284" y="249" width="5" height="121" fill="#ff0000"/>
<rect x="285" y="250" width="3" height="119" fill="#ff4500"/>
<rect x="294" y="235" width="1" height="88" fill="#32cd32"/>
<rect x="292" y="250" width="5" height="68" fill="#32cd32"/>
<rect x="302" y="314" width="1" height="23" fill="#32cd32"/>
<rect x="300" y="317" width="5" height="17" fill="#32cd32"/>
<rect x="310" y="257" width="1" height="65" fill="#ff0000"/>
<rect x="308" y="292" width="5" height="16" fill="#ff0000"/>
<rect x="309" y="293" width="3" height="14" fill="#ff4500"/>
<rect x="318" y="215" width="1" height="86" fill="#ff0000"/>
<rect x="316" y="288" width="5" height="5" fill="#ff0000"/>
<rect x="317" y="289" width="3" height="3" fill="#ff4500"/>
<rect x="326" y="277" width="1" height="55" fill="#32cd32"/>
<rect x="324" y="288" width="5" height="10" fill="#32cd32"/>
<rect x="334" y="222" width="1" height="99" fill="#ff0000"/>
<rect x="332" y="255" width="5" height="43" fill="#ff0000"/>
<rect x="333" y="256" width="3" height="41" fill="#ff4500"/>
<rect x="342" y="220" width="1" height="60" fill="#ff0000"/>
<rect x="340" y="245" width="5" height="10" fill="#ff0000"/>
<rect x="341" y="246" width="3" height="8" fill="#ff4500"/>
<rect x="350" y="210" width="1" height="45" fill="#ff0000"/>
<rect x="348" y="211" width="5" height="35" fill="#ff0000"/>
<rect x="349" y="212" width="3" height="33" fill="#ff4500"/>
<rect x="358" y="190" width="1" height="76" fill="#32cd32"/>
<rect x="356" y="237" width="5" height="26" fill="#32cd32"/>
<rect x="366" y="235" width="1" height="89" fill="#32cd32"/>
<rect x="364" y="262" width="5" height="57" fill="#32cd32"/>
<rect x="374" y="258" width="1" height="78" fill="#ff0000"/>
<rect x="372" y="272" width="5" height="47" fill="#ff0000"/>
<rect x="373" y="273" width="3" height="45" fill="#ff4500"/>
<rect x="382" y="242" width="1" height="68" fill="#32cd32"/>
<rect x="380" y="272" width="5" height="21" fill="#32cd32"/>
<rect x="390" y="265" width="1" height="110" fill="#32cd32"/>
<rect x="388" y="292" width="5" height="54" fill="#32cd32"/>
<rect x="398" y="334" width="1" height="17" fill="#ff0000"/>
<rect x="396" y="339" width="5" height="7" fill="#ff0000"/>
<rect x="397" y="340" width="3" height="5" fill="#ff4500"/>
<rect x="406" y="285" width="1" height="55" fill="#ff0000"/>
<rect x="404" y="303" width="5" height="34" fill="#ff0000"/>
<rect x="405" y="304" width="3" height="32" fill="#ff4500"/>
<rect x="414" y="233" width="1" height="78" fill="#ff0000"/>
<rect x="412" y="273" width="5" height="31" fill="#ff0000"/>
<rect x="413" y="274" width="3" height="29" fill="#ff4500"/>
<rect x="422" y="193" width="1" height="96" fill="#ff0000"/>
<rect x="420" y="212" width="5" height="62" fill="#ff0000"/>
<rect x="421" y="213" width="3" height="60" fill="#ff4500"/>
<rect x="430" y="144" width="1" height="130" fill="#32cd32"/>
<rect x="428" y="213" width="5" height="6" fill="#32cd32"/>
<rect x="438" y="145" width="1" height="110" fill="#32cd32"/>
<rect x="436" y="218" width="5" height="2" fill="#32cd32"/>
<rect x="446" y="213" width="1" height="64" fill="#32cd32"/>
<rect x="444" y="219" width="5" height="50" fill="#32cd32"/>
<rect x="454" y="194" width="1" height="78" fill="#ff0000"/>
<rect x="452" y="221" width="5" height="49" fill="#ff0000"/>
<rect x="453" y="222" width="3" height="47" fill="#ff4500"/>
<rect x="462" y="211" width="1" height="34" fill="#32cd32"/>
<rect x="460" y="221" width="5" height="16" fill="#32cd32"/>
<rect x="470" y="214" width="1" height="49" fill="#32cd32"/>
<rect x="468" y="227" width="5" height="2" fill="#32cd32"/>
<rect x="478" y="197" width="1" height="100" fill="#32cd32"/>
<rect x="476" y="228" width="5" height="7" fill="#32cd32"/>
<rect x="486" y="158" width="1" height="79" fill="#ff0000"/>
<rect x="484" y="196" width="5" height="40" fill="#ff0000"/>
<rect x="485" y="197" width="3" height="38" fill="#ff4500"/>
<rect x="494" y="183" width="1" height="21" fill="#ff0000"/>
<rect x="492" y="191" width="5" height="6" fill="#ff0000"/>
<rect x="493" y="192" width="3" height="4" fill="#ff4500"/>
<rect x="502" y="165" width="1" height="48" fill="#32cd32"/>
<rect x="500" y="193" width="5" height="7" fill="#32cd32"/>
<rect x="510" y="163" width="1" height="44" fill="#ff0000"/>
<rect x="508" y="168" width="5" height="32" fill="#ff0000"/>
<rect x="509" y="169" width="3" height="30" fill="#ff4500"/>
<rect x="518" y="132" width="1" height="165" fill="#32cd32"/>
<rect x="516" y="171" width="5" height="115" fill="#32cd32"/>
<rect x="526" y="226" width="1" height="107" fill="#ff0000"/>
<rect x="524" y="243" width="5" height="43" fill="#ff0000"/>
<rect x="525" y="244" width="3" height="41" fill="#ff4500"/>
<rect x="534" y="215" width="1" height="79" fill="#ff0000"/>
<rect x="532" y="224" width="5" height="20" fill="#ff0000"/>
<rect x="533" y="225" width="3" height="18" fill="#ff4500"/>
<rect x="542" y="216" width="1" height="27" fill="#32cd32"/>
<rect x="540" y="224" width="5" height="12" fill="#32cd32"/>
<rect x="550" y="157" width="1" height="74" fill="#ff0000"/>
<rect x="548" y="167" width="5" height="64" fill="#ff0000"/>
<rect x="549" y="168" width="3" height="62" fill="#ff4500"/>
<rect x="558" y="145" width="1" height="67" fill="#32cd32"/>
<rect x="556" y="167" width="5" height="25" fill="#32cd32"/>
<rect x="566" y="85" width="1" height="113" fill="#ff0000"/>
<rect x="564" y="117" width="5" height="75" fill="#ff0000"/>
<rect x="565" y="118" width="3" height="73" fill="#ff4500"/>
<rect x="574" y="54" width="1" height="65" fill="#ff0000"/>
<rect x="572" y="104" width="5" height="14" fill="#ff0000"/>
<rect x="573" y="105" width="3" height="12" fill="#ff4500"/>
<rect x="582" y="86" width="1" height="88" fill="#32cd32"/>
<rect x="580" y="104" width="5" height="50" fill="#32cd32"/>
<rect x="590" y="143" width="1" height="26" fill="#32cd32"/>
<rect x="588" y="152" width="5" height="15" fill="#32cd32"/>
<rect x="598" y="148" width="1" height="34" fill="#ff0000"/>
<rect x="596" y="163" width="5" height="4" fill="#ff0000"/>
<rect x="597" y="164" width="3" height="2" fill="#ff4500"/>
<rect x="606" y="139" width="1" height="84" fill="#32cd32"/>
<rect x="604" y="163" width="5" height="31" fill="#32cd32"/>
<rect x="614" y="192" width="1" height="68" fill="#32cd32"/>
<rect x="612" y="193" width="5" height="49" fill="#32cd32"/>
<rect x="622" y="224" width="1" height="44" fill="#32cd32"/>
<rect x="620" y="241" width="5" height="16" fill="#32cd32"/>
<rect x="630" y="224" width="1" height="55" fill="#32cd32"/>
<rect x="628" y="256" width="5" height="15" fill="#32cd32"/>
<rect x="638" y="265" width="1" height="21" fill="#ff0000"/>
<rect x="636" y="267" width="5" height="4" fill="#ff0000"/>
<rect x="637" y="268" width="3" height="2" fill="#ff4500"/>
<rect x="646" y="245" width="1" height="37" fill="#32cd32"/>
<rect x="644" y="272" width="5" height="3" fill="#32cd32"/>
<rect x="654" y="264" width="1" height="40" fill="#32cd32"/>
<rect x="652" y="274" width="5" height="9" fill="#32cd32"/>
<rect x="662" y="246" width="1" height="43" fill="#ff0000"/>
<rect x="660" y="258" width="5" height="24" fill="#ff0000"/>
<rect x="661" y="259" width="3" height="22" fill="#ff4500"/>
<rect x="670" y="241" width="1" height="95" fill="#32cd32"/>
<rect x="668" y="258" width="5" height="28" fill="#32cd32"/>
<rect x="678" y="227" width="1" height="127" fill="#ff0000"/>
<rect x="676" y="238" width="5" height="46" fill="#ff0000"/>
<rect x="677" y="239" width="3" height="44" fill="#ff4500"/>
<rect x="686" y="218" width="1" height="23" fill="#ff0000"/>
<rect x="684" y="220" width="5" height="19" fill="#ff0000"/>
<rect x="685" y="221" width="3" height="17" fill="#ff4500"/>
<rect x="694" y="195" width="1" height="52" fill="#ff0000"/>
<rect x="692" y="196" width="5" height="31" fill="#ff0000"/>
<rect x="693" y="197" width="3" height="29" fill="#ff4500"/>
<rect x="702" y="183" width="1" height="41" fill="#32cd32"/>
<rect x="700" y="196" width="5" height="22" fill="#32cd32"/>
<rect x="710" y="183" width="1" height="46" fill="#ff0000"/>
<rect x="708" y="209" width="5" height="9" fill="#ff0000"/>
<rect x="709" y="210" width="3" height="7" fill="#ff4500"/>
<rect x="718" y="113" width="1" height="109" fill="#ff0000"/>
<rect x="716" y="154" width="5" height="55" fill="#ff0000"/>
<rect x="717" y="155" width="3" height="53" fill="#ff4500"/>
<rect x="726" y="144" width="1" height="55" fill="#32cd32"/>
<rect x="724" y="155" width="5" height="8" fill="#32cd32"/>
<rect x="734" y="141" width="1" height="36" fill="#32cd32"/>
<rect x="732" y="162" width="5" height="10" fill="#32cd32"/>
<rect x="742" y="171" width="1" height="39" fill="#32cd32"/>
<rect x="740" y="178" width="5" height="28" fill="#32cd32"/>
<rect x="750" y="192" width="1" height="39" fill="#32cd32"/>
<rect x="748" y="204" width="5" height="25" fill="#32cd32"/>
<rect x="758" y="217" width="1" height="46" fill="#32cd32"/>
<rect x="756" y="228" width="5" height="33" fill="#32cd32"/>
<rect x="766" y="254" width="1" height="63" fill="#32cd32"/>
<rect x="764" y="260" width="5" height="23" fill="#32cd32"/>
<rect x="774" y="278" width="1" height="40" fill="#32cd32"/>
<rect x="772" y="282" width="5" height="31" fill="#32cd32"/>
<rect x="782" y="307" width="1" height="13" fill="#32cd32"/>
<rect x="780" y="311" width="5" height="8" fill="#32cd32"/>
<rect x="790" y="310" width="1" height="63" fill="#32cd32"/>
<rect x="788" y="322" width="5" height="46" fill="#32cd32"/>
<rect x="798" y="338" width="1" height="50" fill="#ff0000"/>
<rect x="796" y="343" width="5" height="25" fill="#ff0000"/>
<rect x="797" y="344" width="3" height="23" fill="#ff4500"/>
<rect x="806" y="298" width="1" height="65" fill="#32cd32"/>
<rect x="804" y="343" width="5" height="13" fill="#32cd32"/>
<rect x="814" y="331" width="1" height="65" fill="#32cd32"/>
<rect x="812" y="356" width="5" height="12" fill="#32cd32"/>
<rect x="822" y="339" width="1" height="72" fill="#32cd32"/>
<rect x="820" y="367" width="5" height="15" fill="#32cd32"/>
<rect x="830" y="335" width="1" height="50" fill="#ff0000"/>
<rect x="828" y="347" width="5" height="35" fill="#ff0000"/>
<rect x="829" y="348" width="3" height="33" fill="#ff4500"/>
<rect x="838" y="305" width="1" height="49" fill="#ff0000"/>
<rect x="836" y="335" width="5" height="17" fill="#ff0000"/>
<rect x="837" y="336" width="3" height="15" fill="#ff4500"/>
<rect x="846" y="300" width="1" height="69" fill="#ff0000"/>
<rect x="844" y="306" width="5" height="28" fill="#ff0000"/>
<rect x="845" y="307" width="3" height="26" fill="#ff4500"/>
<rect x="854" y="280" width="1" height="40" fill="#ff0000"/>
<rect x="852" y="290" width="5" height="17" fill="#ff0000"/>
<rect x="853" y="291" width="3" height="15" fill="#ff4500"/>
<rect x="862" y="266" width="1" height="55" fill="#32cd32"/>
<rect x="860" y="289" width="5" height="4" fill="#32cd32"/>
<rect x="870" y="282" width="1" height="44" fill="#32cd32"/>
<rect x="868" y="291" width="5" height="9" fill="#32cd32"/>
<rect x="878" y="283" width="1" height="30" fill="#32cd32"/>
<rect x="876" y="300" width="5" height="5" fill="#32cd32"/>
<rect x="886" y="270" width="1" height="36" fill="#ff0000"/>
<rect x="884" y="292" width="5" height="11" fill="#ff0000"/>
<rect x="885" y="293" width="3" height="9" fill="#ff4500"/>
<rect x="894" y="262" width="1" height="41" fill="#ff0000"/>
<rect x="892" y="279" width="5" height="15" fill="#ff0000"/>
<rect x="893" y="280" width="3" height="13" fill="#ff4500"/>
<rect x="902" y="231" width="1" height="54" fill="#ff0000"/>
<rect x="900" y="255" width="5" height="25" fill="#ff0000"/>
<rect x="901" y="256" width="3" height="23" fill="#ff4500"/>
<rect x="910" y="249" width="1" height="27" fill="#32cd32"/>
<rect x="908" y="255" width="5" height="3" fill="#32cd32"/>
</svg>
<rect x="1157" y="43" width="2" height="1" fill="#000"/>
<text transform="translate(1161.60 46.90) scale(0.94 1)" class="ax">1.15790</text>
<rect x="1157" y="76" width="2" height="1" fill="#000"/>
<text transform="translate(1161.60 79.90) scale(0.94 1)" class="ax">1.15480</text>
<rect x="1157" y="109" width="2" height="1" fill="#000"/>
<text transform="translate(1161.60 112.90) scale(0.94 1)" class="ax">1.15170</text>
<rect x="1157" y="142" width="2" height="1" fill="#000"/>
<text transform="translate(1161.60 145.90) scale(0.94 1)" class="ax">1.14860</text>
<rect x="1157" y="175" width="2" height="1" fill="#000"/>
<text transform="translate(1161.60 178.90) scale(0.94 1)" class="ax">1.14555</text>
<rect x="1157" y="208" width="2" height="1" fill="#000"/>
<text transform="translate(1161.60 211.90) scale(0.94 1)" class="ax">1.14245</text>
<rect x="1157" y="241" width="2" height="1" fill="#000"/>
<text transform="translate(1161.60 244.90) scale(0.94 1)" class="ax">1.13935</text>
<rect x="1157" y="274" width="2" height="1" fill="#000"/>
<text transform="translate(1161.60 277.90) scale(0.94 1)" class="ax">1.13625</text>
<rect x="1157" y="307" width="2" height="1" fill="#000"/>
<text transform="translate(1161.60 310.90) scale(0.94 1)" class="ax">1.13315</text>
<rect x="1157" y="340" width="2" height="1" fill="#000"/>
<text transform="translate(1161.60 343.90) scale(0.94 1)" class="ax">1.13010</text>
<rect x="1157" y="373" width="2" height="1" fill="#000"/>
<text transform="translate(1161.60 376.90) scale(0.94 1)" class="ax">1.12700</text>
<rect x="1157" y="406" width="2" height="1" fill="#000"/>
<text transform="translate(1161.60 409.90) scale(0.94 1)" class="ax">1.12390</text>
<rect x="1157" y="439" width="2" height="1" fill="#000"/>
<text transform="translate(1161.60 442.90) scale(0.94 1)" class="ax">1.12080</text>
<rect x="1158" y="252" width="39" height="11" fill="#000"/>
<rect x="1157" y="446" width="1" height="1" fill="#000"/>
<rect x="1157" y="518" width="1" height="1" fill="#000"/>
<rect x="1157" y="523" width="1" height="1" fill="#000"/>
<rect x="1157" y="470" width="1" height="1" fill="#000"/>
<rect x="6" y="599" width="1" height="3" fill="#000"/>
<text transform="translate(5.70 610.90) scale(0.9229 1)" class="dt">19 Oct 2018</text>
<rect x="70" y="599" width="1" height="3" fill="#000"/>
<text transform="translate(69.70 610.90) scale(0.9229 1)" class="dt">29 Oct 2018</text>
<rect x="134" y="599" width="1" height="3" fill="#000"/>
<text transform="translate(133.70 610.90) scale(0.9443 1)" class="dt">7 Nov 2018</text>
<rect x="198" y="599" width="1" height="3" fill="#000"/>
<text transform="translate(197.70 610.90) scale(0.9312 1)" class="dt">16 Nov 2018</text>
<rect x="262" y="599" width="1" height="3" fill="#000"/>
<text transform="translate(261.70 610.90) scale(0.9471 1)" class="dt">26 Nov 2018</text>
<rect x="326" y="599" width="1" height="3" fill="#000"/>
<text transform="translate(325.70 610.90) scale(0.9189 1)" class="dt">5 Dec 2018</text>
<rect x="390" y="599" width="1" height="3" fill="#000"/>
<text transform="translate(389.70 610.90) scale(0.8995 1)" class="dt">14 Dec 2018</text>
<rect x="454" y="599" width="1" height="3" fill="#000"/>
<text transform="translate(453.70 610.90) scale(0.9048 1)" class="dt">24 Dec 2018</text>
<rect x="518" y="599" width="1" height="3" fill="#000"/>
<text transform="translate(517.70 610.90) scale(0.901 1)" class="dt">2 Jan 2019</text>
<rect x="582" y="599" width="1" height="3" fill="#000"/>
<text transform="translate(581.70 610.90) scale(0.9061 1)" class="dt">11 Jan 2019</text>
<rect x="646" y="599" width="1" height="3" fill="#000"/>
<text transform="translate(645.70 610.90) scale(0.8901 1)" class="dt">21 Jan 2019</text>
<rect x="710" y="599" width="1" height="3" fill="#000"/>
<text transform="translate(709.70 610.90) scale(0.9028 1)" class="dt">30 Jan 2019</text>
<rect x="774" y="599" width="1" height="3" fill="#000"/>
<text transform="translate(773.70 610.90) scale(0.915 1)" class="dt">8 Feb 2019</text>
<rect x="838" y="599" width="1" height="3" fill="#000"/>
<text transform="translate(837.70 610.90) scale(0.9083 1)" class="dt">18 Feb 2019</text>
<rect x="902" y="599" width="1" height="3" fill="#000"/>
<text transform="translate(901.70 610.90) scale(0.9083 1)" class="dt">27 Feb 2019</text>
</g>
<path d="M350 483h4v1h-4zM821 483h2v1h-2zM907 483h3v1h-3zM78 503h4v1h-4zM161 503h44v1h-44zM478 466h4v1h-4zM664 466h2v1h-2zM759 466h15v1h-15zM72 501h3v1h-3zM213 501h6v1h-6zM473 467h5v1h-5zM666 467h3v1h-3zM751 467h8v1h-8zM774 467h7v1h-7zM530 459h33v1h-33zM645 459h3v1h-3zM390 476h44v1h-44zM805 476h2v1h-2zM497 462h7v1h-7zM653 462h3v1h-3zM5 490h5v1h-5zM34 490h4v1h-4zM255 490h3v1h-3zM837 490h2v1h-2zM879 490h6v1h-6zM469 468h4v1h-4zM669 468h2v1h-2zM744 468h7v1h-7zM781 468h5v1h-5zM602 454h8v1h-8zM629 454h5v1h-5zM438 474h12v1h-12zM689 474h6v1h-6zM715 474h6v1h-6zM800 474h2v1h-2zM46 493h3v1h-3zM245 493h3v1h-3zM848 493h19v1h-19zM486 464h5v1h-5zM659 464h3v1h-3zM569 457h18v1h-18zM640 457h3v1h-3zM273 486h18v1h-18zM339 486h4v1h-4zM827 486h2v1h-2zM896 486h3v1h-3zM10 489h24v1h-24zM258 489h3v1h-3zM834 489h3v1h-3zM885 489h5v1h-5zM108 511h15v1h-15zM49 494h4v1h-4zM242 494h3v1h-3zM358 481h5v1h-5zM817 481h2v1h-2zM504 461h7v1h-7zM651 461h2v1h-2zM266 487h7v1h-7zM291 487h16v1h-16zM336 487h3v1h-3zM829 487h3v1h-3zM893 487h3v1h-3zM261 488h5v1h-5zM307 488h29v1h-29zM832 488h2v1h-2zM890 488h3v1h-3zM66 499h3v1h-3zM224 499h4v1h-4zM462 470h3v1h-3zM674 470h4v1h-4zM734 470h4v1h-4zM789 470h3v1h-3zM465 469h4v1h-4zM671 469h3v1h-3zM738 469h6v1h-6zM786 469h3v1h-3zM95 508h4v1h-4zM134 508h5v1h-5zM75 502h3v1h-3zM205 502h8v1h-8zM38 491h4v1h-4zM252 491h3v1h-3zM839 491h4v1h-4zM873 491h6v1h-6zM593 455h9v1h-9zM634 455h4v1h-4zM42 492h4v1h-4zM248 492h4v1h-4zM843 492h5v1h-5zM867 492h6v1h-6zM454 472h4v1h-4zM682 472h3v1h-3zM726 472h4v1h-4zM795 472h3v1h-3zM610 453h19v1h-19zM346 484h4v1h-4zM823 484h2v1h-2zM903 484h4v1h-4zM511 460h19v1h-19zM648 460h3v1h-3zM363 480h6v1h-6zM814 480h3v1h-3zM491 463h6v1h-6zM656 463h3v1h-3zM434 475h4v1h-4zM695 475h20v1h-20zM802 475h3v1h-3zM99 509h4v1h-4zM128 509h6v1h-6zM458 471h4v1h-4zM678 471h4v1h-4zM730 471h4v1h-4zM792 471h3v1h-3zM88 506h4v1h-4zM144 506h6v1h-6zM382 477h8v1h-8zM807 477h3v1h-3zM103 510h5v1h-5zM123 510h5v1h-5zM56 496h3v1h-3zM235 496h4v1h-4zM563 458h6v1h-6zM643 458h2v1h-2zM85 505h3v1h-3zM150 505h5v1h-5zM450 473h4v1h-4zM685 473h4v1h-4zM721 473h5v1h-5zM798 473h2v1h-2zM343 485h3v1h-3zM825 485h2v1h-2zM899 485h4v1h-4zM82 504h3v1h-3zM155 504h6v1h-6zM53 495h3v1h-3zM239 495h3v1h-3zM59 497h3v1h-3zM232 497h3v1h-3zM92 507h3v1h-3zM139 507h5v1h-5zM587 456h6v1h-6zM638 456h2v1h-2zM354 482h4v1h-4zM819 482h2v1h-2zM482 465h4v1h-4zM662 465h2v1h-2zM69 500h3v1h-3zM219 500h5v1h-5zM375 478h7v1h-7zM810 478h2v1h-2zM369 479h6v1h-6zM812 479h2v1h-2zM62 498h4v1h-4zM228 498h4v1h-4z" fill="#ff0000" shape-rendering="crispEdges"/>
<path d="M18 569h3v1h-3zM24 569h4v1h-4zM100 569h6v1h-6zM154 569h5v1h-5zM178 569h3v1h-3zM274 569h5v1h-5zM772 569h6v1h-6zM828 569h2v1h-2zM127 563h2v1h-2zM141 563h2v1h-2zM194 563h2v1h-2zM242 563h2v1h-2zM292 563h2v1h-2zM306 563h3v1h-3zM363 563h2v1h-2zM367 563h2v1h-2zM384 563h2v1h-2zM402 563h3v1h-3zM519 563h2v1h-2zM613 563h5v1h-5zM661 563h3v1h-3zM674 563h2v1h-2zM752 563h2v1h-2zM845 563h3v1h-3zM6 566h4v1h-4zM116 566h4v1h-4zM146 566h2v1h-2zM250 566h8v1h-8zM264 566h2v1h-2zM642 566h14v1h-14zM669 566h2v1h-2zM760 566h4v1h-4zM836 566h4v1h-4zM16 568h2v1h-2zM28 568h3v1h-3zM96 568h4v1h-4zM106 568h6v1h-6zM150 568h4v1h-4zM181 568h5v1h-5zM269 568h5v1h-5zM768 568h4v1h-4zM830 568h2v1h-2zM213 556h2v1h-2zM346 556h3v1h-3zM351 556h2v1h-2zM419 556h2v1h-2zM434 556h5v1h-5zM453 556h3v1h-3zM481 556h2v1h-2zM546 556h2v1h-2zM556 556h3v1h-3zM586 556h14v1h-14zM693 556h3v1h-3zM735 556h2v1h-2zM898 556h3v1h-3zM906 556h5v1h-5zM208 558h2v1h-2zM217 558h2v1h-2zM338 558h6v1h-6zM354 558h2v1h-2zM415 558h2v1h-2zM441 558h2v1h-2zM449 558h2v1h-2zM460 558h6v1h-6zM474 558h5v1h-5zM532 558h6v1h-6zM543 558h2v1h-2zM602 558h3v1h-3zM688 558h2v1h-2zM698 558h3v1h-3zM706 558h5v1h-5zM739 558h2v1h-2zM893 558h3v1h-3zM38 574h4v1h-4zM48 574h4v1h-4zM76 574h4v1h-4zM166 574h2v1h-2zM789 574h2v1h-2zM21 570h3v1h-3zM32 570h2v1h-2zM61 570h3v1h-3zM159 570h2v1h-2zM176 570h2v1h-2zM778 570h5v1h-5zM797 570h5v1h-5zM826 570h2v1h-2zM58 571h3v1h-3zM64 571h4v1h-4zM173 571h3v1h-3zM783 571h2v1h-2zM795 571h2v1h-2zM802 571h8v1h-8zM132 560h2v1h-2zM135 560h2v1h-2zM198 560h4v1h-4zM221 560h5v1h-5zM234 560h5v1h-5zM287 560h2v1h-2zM330 560h3v1h-3zM373 560h3v1h-3zM410 560h3v1h-3zM445 560h2v1h-2zM525 560h3v1h-3zM607 560h2v1h-2zM680 560h4v1h-4zM744 560h2v1h-2zM853 560h5v1h-5zM888 560h2v1h-2zM485 554h13v1h-13zM504 554h2v1h-2zM550 554h2v1h-2zM579 554h2v1h-2zM716 554h2v1h-2zM722 554h8v1h-8zM202 559h6v1h-6zM219 559h2v1h-2zM333 559h5v1h-5zM356 559h2v1h-2zM413 559h2v1h-2zM443 559h2v1h-2zM447 559h2v1h-2zM528 559h4v1h-4zM538 559h5v1h-5zM605 559h2v1h-2zM684 559h4v1h-4zM701 559h5v1h-5zM741 559h3v1h-3zM890 559h3v1h-3zM56 572h2v1h-2zM68 572h4v1h-4zM162 572h2v1h-2zM170 572h3v1h-3zM785 572h2v1h-2zM793 572h2v1h-2zM810 572h8v1h-8zM823 572h2v1h-2zM139 562h2v1h-2zM290 562h2v1h-2zM309 562h5v1h-5zM322 562h6v1h-6zM361 562h2v1h-2zM369 562h2v1h-2zM380 562h4v1h-4zM405 562h3v1h-3zM521 562h2v1h-2zM611 562h2v1h-2zM676 562h2v1h-2zM749 562h3v1h-3zM848 562h2v1h-2zM866 562h16v1h-16zM120 565h4v1h-4zM246 565h4v1h-4zM258 565h6v1h-6zM298 565h6v1h-6zM389 565h11v1h-11zM626 565h16v1h-16zM656 565h2v1h-2zM666 565h3v1h-3zM671 565h2v1h-2zM757 565h3v1h-3zM840 565h2v1h-2zM130 561h2v1h-2zM137 561h2v1h-2zM226 561h8v1h-8zM239 561h2v1h-2zM314 561h8v1h-8zM328 561h2v1h-2zM359 561h2v1h-2zM371 561h2v1h-2zM376 561h4v1h-4zM408 561h2v1h-2zM523 561h2v1h-2zM609 561h2v1h-2zM678 561h2v1h-2zM746 561h3v1h-3zM850 561h3v1h-3zM858 561h8v1h-8zM882 561h6v1h-6zM349 555h2v1h-2zM421 555h13v1h-13zM483 555h2v1h-2zM498 555h6v1h-6zM548 555h2v1h-2zM552 555h4v1h-4zM559 555h2v1h-2zM581 555h5v1h-5zM714 555h2v1h-2zM730 555h5v1h-5zM901 555h5v1h-5zM124 564h3v1h-3zM143 564h2v1h-2zM244 564h2v1h-2zM294 564h4v1h-4zM304 564h2v1h-2zM365 564h2v1h-2zM386 564h3v1h-3zM400 564h2v1h-2zM618 564h8v1h-8zM658 564h3v1h-3zM664 564h2v1h-2zM754 564h3v1h-3zM842 564h3v1h-3zM10 567h6v1h-6zM94 567h2v1h-2zM112 567h4v1h-4zM148 567h2v1h-2zM186 567h5v1h-5zM266 567h3v1h-3zM764 567h4v1h-4zM832 567h4v1h-4zM210 557h3v1h-3zM215 557h2v1h-2zM344 557h2v1h-2zM417 557h2v1h-2zM439 557h2v1h-2zM451 557h2v1h-2zM456 557h4v1h-4zM466 557h8v1h-8zM479 557h2v1h-2zM600 557h2v1h-2zM690 557h3v1h-3zM696 557h2v1h-2zM711 557h2v1h-2zM737 557h2v1h-2zM896 557h2v1h-2zM36 573h2v1h-2zM52 573h4v1h-4zM72 573h4v1h-4zM164 573h2v1h-2zM168 573h2v1h-2zM787 573h2v1h-2zM791 573h2v1h-2zM818 573h5v1h-5zM566 551h9v1h-9zM506 553h3v1h-3zM562 553h2v1h-2zM577 553h2v1h-2zM718 553h4v1h-4zM42 575h6v1h-6zM80 575h4v1h-4zM509 552h2v1h-2zM564 552h2v1h-2zM575 552h2v1h-2zM84 576h3v1h-3zM280 566h1v2h-1zM193 564h1v1h-1zM241 562h1v1h-1zM515 559h1v2h-1zM31 569h1v1h-1zM34 571h1v1h-1zM512 555h1v1h-1zM513 556h1v2h-1zM93 568h1v1h-1zM561 554h1v1h-1zM197 561h1v1h-1zM517 562h1v2h-1zM35 572h1v1h-1zM511 553h1v2h-1zM90 571h1v2h-1zM192 565h1v1h-1zM514 558h1v1h-1zM161 571h1v1h-1zM516 561h1v1h-1zM289 561h1v1h-1zM358 560h1v1h-1zM89 573h1v1h-1zM545 557h1v1h-1zM191 566h1v1h-1zM92 569h1v1h-1zM91 570h1v1h-1zM283 563h1v1h-1zM713 556h1v1h-1zM285 560h1v1h-1zM286 559h1v1h-1zM196 562h1v1h-1zM284 561h1v2h-1zM518 564h1v1h-1zM145 565h1v1h-1zM825 571h1v1h-1zM88 574h1v1h-1zM282 564h1v1h-1zM134 559h1v1h-1zM353 557h1v1h-1zM87 575h1v1h-1zM279 568h1v1h-1zM129 562h1v1h-1zM281 565h1v1h-1zM673 564h1v1h-1z" fill="#1e90ff" shape-rendering="crispEdges"/>
<text transform="translate(1161.60 260.90) scale(0.94 1)" class="ax" style="fill:#fff;stroke:#fff">1.13785</text>
<text transform="translate(1160.20 454.90) scale(0.925 1)" class="ax">0.003216</text>
<text transform="translate(1160.20 473.80) scale(0.925 1)" class="ax">0.00</text>
<text transform="translate(1160.00 516.00) scale(0.925 1)" class="ax">-0.006485</text>
<text transform="translate(1159.60 531.90) scale(0.925 1)" class="ax">100</text>
<text transform="translate(1159.80 549.10) scale(0.925 1)" class="ax">70</text>
<text transform="translate(1159.80 579.30) scale(0.925 1)" class="ax">30</text>
<text transform="translate(1159.80 594.80) scale(0.925 1)" class="ax">0</text>
<!-- titles -->
<path d="M9 40 L16 40 L12.5 44 Z" fill="#000"/>
<text x="20.9" y="44.5" class="ttl" textLength="63.8" lengthAdjust="spacingAndGlyphs">EURUSD,Daily</text>
<text x="90.6" y="44.5" class="ttl" textLength="33" lengthAdjust="spacingAndGlyphs">1.13805</text>
<text x="126.9" y="44.5" class="ttl" textLength="33" lengthAdjust="spacingAndGlyphs">1.13863</text>
<text x="163.0" y="44.5" class="ttl" textLength="33" lengthAdjust="spacingAndGlyphs">1.13616</text>
<text x="199.2" y="44.5" class="ttl" textLength="33" lengthAdjust="spacingAndGlyphs">1.13785</text>
<text x="9.9" y="457.3" class="ttl" textLength="66.4" lengthAdjust="spacingAndGlyphs">MACD(12,26,9)</text>
<text x="79.0" y="457.3" class="ttl" textLength="41.2" lengthAdjust="spacingAndGlyphs">-0.000424</text>
<text x="122.8" y="457.3" class="ttl" textLength="41.2" lengthAdjust="spacingAndGlyphs">-0.001728</text>
<text x="10.4" y="534.1" class="ttl" textLength="67.4" lengthAdjust="spacingAndGlyphs">RSI(14) 55.8029</text>
<!-- bottom tab bar -->
<rect x="0" y="621" width="1197" height="24" fill="#f0f0f0"/>
<rect x="0" y="621" width="1197" height="1" fill="#000"/>
<rect x="0" y="641" width="1197" height="1" fill="#fbfbfb"/>
<rect x="1" y="622" width="1" height="19" fill="#a0a0a0"/>
<rect x="2" y="622" width="1" height="18" fill="#696969"/>
<rect x="0" y="622" width="1" height="20" fill="#fff"/>
<rect x="7" y="620" width="104" height="20" fill="#fff"/>
<rect x="7" y="621" width="1" height="19" fill="#000"/>
<rect x="110" y="621" width="1" height="19" fill="#000"/>
<rect x="7" y="639" width="104" height="1" fill="#000"/>
<text x="19.5" y="635.6" class="tab" textLength="79.2" lengthAdjust="spacingAndGlyphs" fill="#000">EURUSD,Daily</text>
<text x="121.7" y="635.6" class="tab" textLength="82.6" lengthAdjust="spacingAndGlyphs" fill="#6c6c6c">AUDUSD,Daily</text>
<text x="225.4" y="635.6" class="tab" textLength="78.6" lengthAdjust="spacingAndGlyphs" fill="#6c6c6c">USDCHF,Daily</text>
<text x="326.8" y="635.6" class="tab" textLength="80.2" lengthAdjust="spacingAndGlyphs" fill="#6c6c6c">USDCAD,Daily</text>
<text x="429.4" y="635.6" class="tab" textLength="71.1" lengthAdjust="spacingAndGlyphs" fill="#6c6c6c">USDCNH,H4</text>
<text x="521" y="635.6" class="tab" textLength="75.0" lengthAdjust="spacingAndGlyphs" fill="#6c6c6c">USDJPY,Daily</text>
<text x="617.7" y="635.6" class="tab" textLength="82.0" lengthAdjust="spacingAndGlyphs" fill="#6c6c6c">XAUUSD,Daily</text>
<text x="721.4" y="635.6" class="tab" textLength="98.6" lengthAdjust="spacingAndGlyphs" fill="#6c6c6c">GBPUSD,Monthly</text>
<text x="843" y="635.6" class="tab" textLength="63.8" lengthAdjust="spacingAndGlyphs" fill="#6c6c6c">SP500,M15</text>
<text x="931.7" y="635.6" class="tab" textLength="66.6" lengthAdjust="spacingAndGlyphs" fill="#6c6c6c">GBPUSD,H1</text>
<text x="1021" y="635.6" class="tab" textLength="46.7" lengthAdjust="spacingAndGlyphs" fill="#6c6c6c">DJ30,H4</text>
<text x="1089.5" y="635.6" class="tab" textLength="69.5" lengthAdjust="spacingAndGlyphs" fill="#6c6c6c">TECH100,H1</text>
<rect x="215" y="624" width="1" height="14" fill="#6a6a6a"/>
<rect x="315" y="624" width="1" height="14" fill="#6a6a6a"/>
<rect x="419" y="624" width="1" height="14" fill="#6a6a6a"/>
<rect x="511" y="624" width="1" height="14" fill="#6a6a6a"/>
<rect x="607" y="624" width="1" height="14" fill="#6a6a6a"/>
<rect x="711" y="624" width="1" height="14" fill="#6a6a6a"/>
<rect x="831" y="624" width="1" height="14" fill="#6a6a6a"/>
<rect x="919" y="624" width="1" height="14" fill="#6a6a6a"/>
<rect x="1010" y="624" width="1" height="14" fill="#6a6a6a"/>
<rect x="1079" y="624" width="1" height="14" fill="#6a6a6a"/>
<path d="M1175.5 626.8 L1175.5 633.2 L1171.8 630 Z" fill="#8c8c8c"/>
<path d="M1190.5 626.5 L1190.5 633.5 L1194.4 630 Z" fill="#000"/>
</svg>
</body></html>
